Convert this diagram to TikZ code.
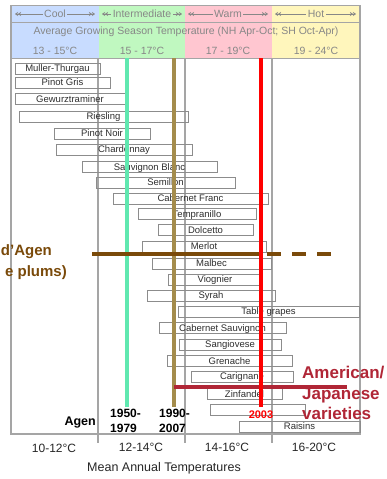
\documentclass[tikz,border=0pt]{standalone}
\usepackage{fontspec}
\setmainfont{Liberation Sans}
\usetikzlibrary{arrows.meta}
\definecolor{coolc}{RGB}{200,220,255}
\definecolor{interc}{RGB}{192,248,192}
\definecolor{warmc}{RGB}{255,198,208}
\definecolor{hotc}{RGB}{255,246,188}
\definecolor{headtxt}{RGB}{135,135,135}
\definecolor{gridc}{RGB}{165,165,165}
\definecolor{boxc}{RGB}{140,140,140}
\definecolor{lbl}{RGB}{45,45,45}
\definecolor{aqua}{RGB}{96,232,176}
\definecolor{olivel}{RGB}{164,140,76}
\definecolor{brownl}{RGB}{122,74,10}
\definecolor{darkredl}{RGB}{176,38,54}
\definecolor{redl}{RGB}{255,0,0}
\begin{document}
\begin{tikzpicture}[x=1pt,y=-1pt,
  vbox/.style={draw=boxc, line width=0.9pt, minimum height=11pt, inner sep=0pt,
    text height=7pt, text depth=1pt,
    font=\fontsize{9.5}{10}\selectfont, text=lbl},
  head/.style={font=\fontsize{10.5}{12}\selectfont, text=headtxt, inner sep=1.5pt},
  bandarrow/.style={draw=headtxt, line width=0.6pt,
    {Stealth[length=3pt,width=4pt] Stealth[length=3pt,width=4pt]}-{Stealth[length=3pt,width=4pt] Stealth[length=3pt,width=4pt]}},
  gridline/.style={draw=gridc, line width=1.3pt},
  trendline/.style={line width=4pt},
  axislbl/.style={font=\fontsize{12}{14}\selectfont, text=black!85},
  bigbold/.style={font=\fontsize{15}{18}\selectfont\bfseries},
  yearlbl/.style={font=\fontsize{12}{15}\selectfont\bfseries, align=left, inner sep=0pt}
]
\useasboundingbox (0,0) rectangle (387,479);
% header bands
\fill[coolc] (11,5) rectangle (99,58);
\fill[interc] (99,5) rectangle (185,58);
\fill[warmc] (185,5) rectangle (272,58);
\fill[hotc] (272,5) rectangle (360,58);
\draw[gridc, line width=0.8pt] (11,22) -- (360,22);
\draw[gridc, line width=1pt] (11,5) rectangle (360,58);
% band arrows
\draw[bandarrow] (15,14) -- (95,14);
\node[head, fill=coolc] (hcool) at (55,14) {Cool};
\draw[bandarrow] (102,14) -- (182,14);
\node[head, fill=interc] (hinter) at (142,14) {Intermediate};
\draw[bandarrow] (188,14) -- (268,14);
\node[head, fill=warmc] (hwarm) at (228,14) {Warm};
\draw[bandarrow] (275,14) -- (356,14);
\node[head, fill=hotc] (hhot) at (316,14) {Hot};
\node[head] (gst) at (186,32) {Average Growing Season Temperature (NH Apr-Oct; SH Oct-Apr)};
\node[head] (r1) at (55,51) {13 - 15°C};
\node[head] (r2) at (142,51) {15 - 17°C};
\node[head] (r3) at (228,51) {17 - 19°C};
\node[head] (r4) at (316,51) {19 - 24°C};
% frame and grid
\draw[gridline] (11,5) -- (11,434) -- (360,434) -- (360,5);
\draw[gridline] (98,58) -- (98,443);
\draw[gridline] (185,58) -- (185,443);
\draw[gridline] (272,58) -- (272,443);
% variety boxes
\node[vbox, minimum width=85pt] (mt) at (57.5,68.5) {Muller-Thurgau};
\node[vbox, minimum width=95pt] (pg) at (62.5,82.5) {Pinot Gris};
\node[vbox, minimum width=110pt] (gw) at (70,99) {Gewurztraminer};
\node[vbox, minimum width=169pt] (ri) at (103.5,116.5) {Riesling};
\node[vbox, minimum width=96pt] (pn) at (102,133.5) {Pinot Noir};
\node[vbox, minimum width=136pt] (ch) at (124,149.5) {Chardonnay};
\node[vbox, minimum width=135pt] (sb) at (149.5,167) {Sauvignon Blanc};
\node[vbox, minimum width=139pt] (se) at (165.5,182.5) {Semillon};
\node[vbox, minimum width=155pt] (cf) at (190.5,198.5) {Cabernet Franc};
\node[vbox, minimum width=118pt] (te) at (197,214) {Tempranillo};
\node[vbox, minimum width=95pt] (do) at (205.5,230) {Dolcetto};
\node[vbox, minimum width=124pt] (me) at (204,246.5) {Merlot};
\node[vbox, minimum width=119pt] (ma) at (211.5,263.5) {Malbec};
\node[vbox, minimum width=94pt] (vi) at (215,279.5) {Viognier};
\node[vbox, minimum width=128pt] (sy) at (211,295.5) {Syrah};
\node[vbox, minimum width=181pt] (tg) at (268.5,311.5) {Table grapes};
\node[vbox, minimum width=127pt] (cs) at (222.5,328) {Cabernet Sauvignon};
\node[vbox, minimum width=102pt] (sg) at (230,344.5) {Sangiovese};
\node[vbox, minimum width=125pt] (gr) at (229.5,361) {Grenache};
\node[vbox, minimum width=102pt] (ca) at (242,376.5) {Carignane};
\node[vbox, minimum width=75pt] (zi) at (244.5,394) {Zinfandel};
\node[vbox, minimum width=95pt] (hid) at (257.5,409.5) {};
\node[vbox, minimum width=121pt] (ra) at (299.5,426.5) {Raisins};
% trend lines
\coordinate (gtop) at (127,58);  \coordinate (gbot) at (127,407);
\coordinate (otop) at (174,58);  \coordinate (obot) at (174,407);
\coordinate (rtop) at (260.5,58); \coordinate (rbot) at (260.5,407);
\coordinate (bl) at (92,254.3);  \coordinate (bm) at (262,254.3);
\coordinate (bd) at (267,254.3); \coordinate (br) at (331,254.3);
\coordinate (jl) at (174,386.5); \coordinate (jr) at (347,386.5);
\draw[trendline, aqua] (gtop) -- (gbot);
\draw[trendline, olivel] (otop) -- (obot);
\draw[trendline, brownl] (bl) -- (bm);
\draw[trendline, brownl, dash pattern=on 14pt off 11pt] (bd) -- (br);
\draw[trendline, darkredl] (jl) -- (jr);
\draw[trendline, redl] (rtop) -- (rbot);
% labels
\node[bigbold, text=brownl, anchor=east, inner sep=0pt] (agen1) at (52,252) {d’Agen};
\node[bigbold, text=brownl, anchor=east, inner sep=0pt] (agen2) at (67,273) {e plums)};
\node[font=\fontsize{17}{20.5}\selectfont\bfseries, text=darkredl, anchor=north west, align=left, inner sep=0pt] (amjp) at (302,366) {American/\\Japanese\\varieties};
\node[font=\fontsize{12.5}{15}\selectfont\bfseries, anchor=east, inner sep=0pt] (agen) at (96,423) {Agen};
\node[yearlbl, anchor=north west] (y1) at (110,409) {1950-\\1979};
\node[yearlbl, anchor=north west] (y2) at (159,409) {1990-\\2007};
\node[font=\fontsize{11}{13}\selectfont\bfseries, text=redl, inner sep=0pt] (y3) at (261,415) {2003};
% axis
\node[axislbl] (a1) at (54,448) {10-12°C};
\node[axislbl] (a2) at (141,447) {12-14°C};
\node[axislbl] (a3) at (227,447) {14-16°C};
\node[axislbl] (a4) at (314,447) {16-20°C};
\node[font=\fontsize{12.5}{15}\selectfont, text=black!85] (atitle) at (164,468) {Mean Annual Temperatures};
\end{tikzpicture}
\end{document}
